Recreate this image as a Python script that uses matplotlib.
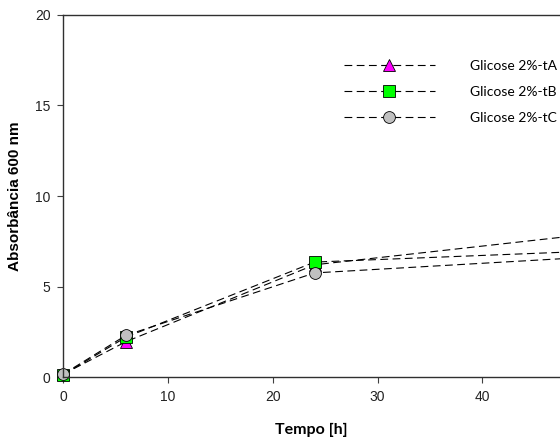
import numpy as np
import matplotlib
matplotlib.use("Agg")
import matplotlib.pyplot as plt

# tempo [h] e absorbancia 600 nm
tempo = [0, 6, 24, 48]
tA = [0.15, 1.95, 6.2, 7.75]
tB = [0.12, 2.2, 6.35, 6.9]
tC = [0.15, 2.3, 5.75, 6.55]

nomes = ['Glicose 2%-tA', 'Glicose 2%-tB', 'Glicose 2%-tC']
cores = ['#ff00ff', '#00ff00', '#c0c0c0']
marcadores = ['^', 's', 'o']

fig = plt.figure(figsize=(5.6, 4.4), dpi=100)
ax = fig.add_axes([63/560, 1 - 377/440, 1 - 63/560, (377 - 15)/440])

for y, nome, cor, m in zip([tA, tB, tC], nomes, cores, marcadores):
    ax.plot(tempo, y, color='black', linestyle=(0, (7, 4)), linewidth=0.8,
            marker=m, markersize=9 if m == '^' else 8.5, markerfacecolor=cor,
            markeredgecolor='black', markeredgewidth=0.6, label=nome,
            clip_on=False)

ax.set_xlim(0, 47.4)
ax.set_ylim(0, 20)
ax.set_xticks([0, 10, 20, 30, 40])
ax.set_yticks([0, 5, 10, 15, 20])
ax.tick_params(direction='out', length=4, width=0.8, labelsize=10, color='#404040',
               labelcolor='#222222', pad=5)
for lab in ax.get_xticklabels() + ax.get_yticklabels():
    lab.set_fontfamily('Liberation Sans')
ax.spines['right'].set_visible(False)
for s in ['left', 'bottom', 'top']:
    ax.spines[s].set_color('#303030')
    ax.spines[s].set_linewidth(1.0)

ax.set_xlabel('Tempo [h]', fontfamily='Lato', fontweight='bold', fontsize=11.5, labelpad=14)
ax.set_ylabel('Absorbância 600 nm', fontfamily='Liberation Sans', fontweight='bold',
              fontsize=11, labelpad=9)

leg = ax.legend(loc='upper right', bbox_to_anchor=(557/560, 1 - 60/440),
                bbox_transform=fig.transFigure, frameon=False,
                prop={'family': 'Lato', 'size': 10}, handlelength=6.6,
                handletextpad=2.5, labelspacing=1.0, borderaxespad=0, borderpad=0)

fig.savefig('out.png', dpi=100)
